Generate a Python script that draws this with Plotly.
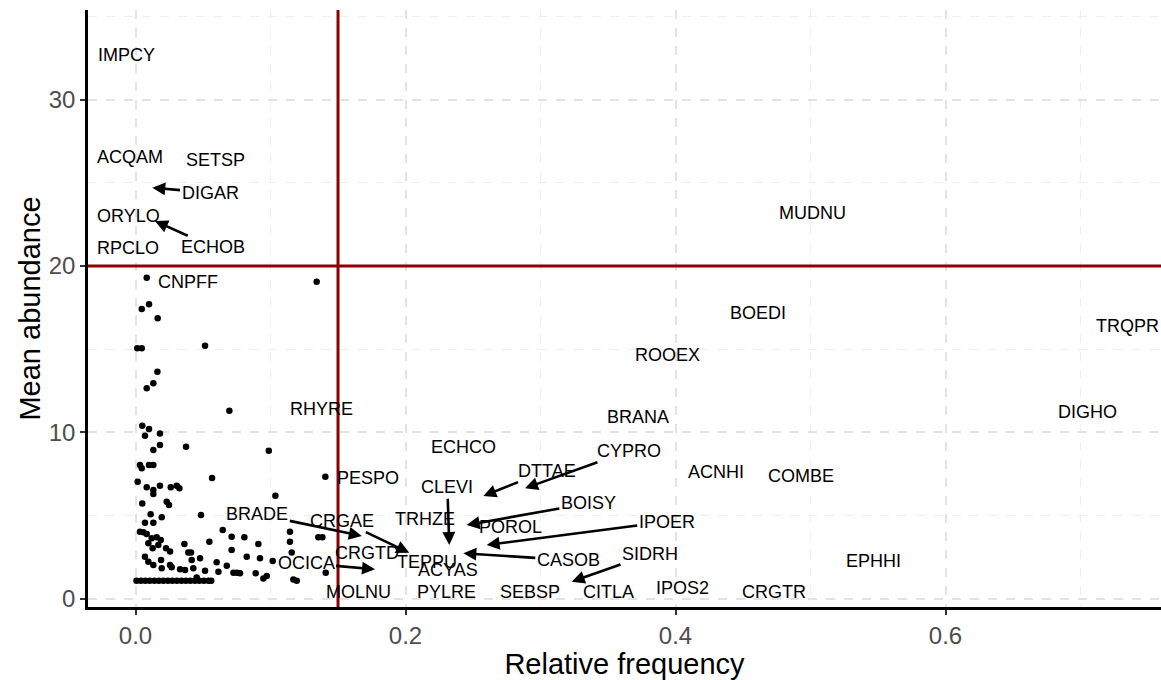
import plotly.graph_objects as go

# ---- labelled species: point position (freq, abund) and label position ----
lab_names = ["IMPCY", "ACQAM", "SETSP", "DIGAR", "ORYLO", "ECHOB", "RPCLO", "MUDNU",
             "CNPFF", "BOEDI", "TRQPR", "ROOEX", "RHYRE", "BRANA", "DIGHO", "ECHCO",
             "CYPRO", "DTTAE", "ACNHI", "COMBE", "PESPO", "CLEVI", "BOISY", "BRADE",
             "CRGAE", "TRHZE", "POROL", "IPOER", "CRGTD", "TEPPU", "CASOB", "SIDRH",
             "ACYAS", "OCICA", "EPHHI", "MOLNU", "PYLRE", "SEBSP", "CITLA", "IPOS2", "CRGTR"]
lab_freq = [-0.0065, -0.0041, 0.0589, 0.0124, -0.0053, 0.0144, -0.0053, 0.5015,
            0.0391, 0.461, 0.7350, 0.3937, 0.1379, 0.3722, 0.705, 0.2428,
            0.2885, 0.2576, 0.430, 0.4933, 0.1725, 0.2324, 0.2453, 0.1676,
            0.2028, 0.2144, 0.2774, 0.2601, 0.1713, 0.2157, 0.2428, 0.3231,
            0.2317, 0.1774, 0.5463, 0.165, 0.2305, 0.2922, 0.3502, 0.405, 0.4731]
lab_abund = [32.68, 26.53, 26.37, 24.70, 23.00, 22.70, 21.06, 23.18,
             19.05, 17.17, 16.39, 14.64, 11.38, 10.94, 11.20, 9.13,
             6.63, 6.16, 7.63, 7.39, 7.23, 3.22, 4.42, 3.76,
             2.75, 4.76, 4.28, 3.22, 2.72, 2.21, 2.72, 1.01,
             1.71, 1.76, 2.25, 0.41, 0.37, 0.37, 0.37, 0.61, 0.37]
lab_tx = [-0.0065, -0.0041, 0.0589, 0.0552, -0.0053, 0.0576, -0.0053, 0.5015,
          0.0391, 0.461, 0.7350, 0.3937, 0.1379, 0.3722, 0.705, 0.2428,
          0.3658, 0.3046, 0.430, 0.4933, 0.1725, 0.231, 0.3354, 0.0902,
          0.1527, 0.2144, 0.2774, 0.3935, 0.1713, 0.2157, 0.3206, 0.3811,
          0.2317, 0.1263, 0.5463, 0.165, 0.2305, 0.2922, 0.3502, 0.405, 0.4731]
lab_ty = [32.68, 26.53, 26.37, 24.40, 23.00, 21.12, 21.06, 23.18,
          19.05, 17.17, 16.39, 14.64, 11.38, 10.94, 11.20, 9.13,
          8.89, 7.69, 7.63, 7.39, 7.23, 6.69, 5.72, 5.08,
          4.68, 4.76, 4.28, 4.62, 2.72, 2.21, 2.32, 2.68,
          1.71, 2.12, 2.25, 0.41, 0.37, 0.37, 0.37, 0.61, 0.37]

# ---- unlabelled species (points) ----
pt_freq = [0.0083, 0.1342, 0.0046, 0.010, 0.0164,
           0.0013, 0.0046, 0.0515, 0.0162, 0.0132, 0.0083, 0.0695,
           0.005, 0.010, 0.007, 0.0181, 0.0132, 0.0181, 0.0374, 0.0987,
           0.0033, 0.0046, 0.010, 0.0132, 0.0016, 0.0567, 0.1406,
           0.0083, 0.0132, 0.0132, 0.0181, 0.0261, 0.0305, 0.0325, 0.1036,
           0.005, 0.0231, 0.0248, 0.0485, 0.0112, 0.007, 0.0132, 0.0194,
           0.0033, 0.0058, 0.0083, 0.012, 0.0157, 0.0187, 0.0095, 0.0127, 0.0169, 0.0226, 0.0256,
           0.007, 0.0095, 0.0132, 0.0189, 0.0194, 0.0256, 0.0268, 0.033,
           0.0362, 0.0391, 0.0411, 0.0416, 0.0367, 0.0428, 0.0478, 0.0515, 0.0453,
           0.0547, 0.0601, 0.0614, 0.0646, 0.0676, 0.0712, 0.0712, 0.0725, 0.0774, 0.0750,
           0.0806, 0.0824, 0.089, 0.091, 0.0922, 0.0947, 0.0972, 0.1016,
           0.1144, 0.1144, 0.1157, 0.1169, 0.1194, 0.1354, 0.1384, 0.1409,
           0.0007, 0.004, 0.0073, 0.0106, 0.014, 0.0173, 0.0206, 0.024, 0.0273,
           0.0306, 0.034, 0.0373, 0.0406, 0.044, 0.0473, 0.0506, 0.054, 0.0561]
pt_abund = [19.29, 19.05, 17.41, 17.70, 16.85,
            15.05, 15.05, 15.20, 13.64, 12.94, 12.64, 11.29,
            10.39, 10.19, 9.79, 9.93, 8.93, 9.23, 9.13, 8.89,
            8.03, 7.83, 8.03, 8.03, 7.02, 7.25, 7.32,
            6.69, 6.52, 6.28, 6.78, 6.69, 6.78, 6.63, 6.18,
            5.72, 5.82, 5.62, 5.02, 5.06, 4.56, 4.56, 4.88,
            4.02, 3.98, 3.88, 3.62, 3.68, 3.52, 3.32, 3.02, 3.22, 3.02, 2.82,
            2.51, 2.21, 2.01, 2.31, 1.82, 2.01, 1.88, 1.76,
            3.28, 2.76, 2.76, 2.31, 1.71, 1.82, 2.42, 1.67, 1.27,
            3.42, 2.18, 1.61, 4.12, 1.97, 3.72, 2.92, 1.55, 1.52, 1.55,
            3.68, 2.51, 1.52, 3.28, 2.42, 1.21, 1.35, 2.25,
            4.02, 3.42, 2.76, 1.15, 1.07, 3.68, 3.68, 1.55,
            1.07, 1.07, 1.07, 1.07, 1.07, 1.07, 1.07, 1.07, 1.07,
            1.07, 1.07, 1.07, 1.07, 1.07, 1.07, 1.07, 1.07, 1.07]

freq_cut = 0.15
abund_cut = 20

x_ticks = [0.0, 0.2, 0.4, 0.6]
x_ticklabels = ["0.0", "0.2", "0.4", "0.6"]
y_ticks = [0, 10, 20, 30]
y_ticklabels = ["0", "10", "20", "30"]

FONT = "Liberation Sans, Arial, sans-serif"

fig = go.Figure()
fig.add_trace(go.Scatter(x=pt_freq, y=pt_abund, mode="markers",
                         marker=dict(color="black", size=6.5), hoverinfo="skip",
                         showlegend=False))

annotations = []
for n, px, py, tx, ty in zip(lab_names, lab_freq, lab_abund, lab_tx, lab_ty):
    moved = abs(px - tx) > 1e-6 or abs(py - ty) > 1e-6
    if moved:
        annotations.append(dict(x=px, y=py, ax=tx, ay=ty, xref="x", yref="y",
                                axref="x", ayref="y", text=n, showarrow=True,
                                arrowhead=2, arrowsize=1, arrowwidth=2.6,
                                arrowcolor="black",
                                font=dict(family=FONT, size=18, color="black")))
    else:
        annotations.append(dict(x=tx, y=ty, xref="x", yref="y", text=n,
                                showarrow=False,
                                font=dict(family=FONT, size=18, color="black")))

fig.add_shape(type="line", xref="x", yref="paper", x0=freq_cut, x1=freq_cut, y0=0, y1=1,
              line=dict(color="#8B0000", width=3), layer="above")
fig.add_shape(type="line", xref="paper", yref="y", x0=0, x1=1, y0=abund_cut, y1=abund_cut,
              line=dict(color="#8B0000", width=3), layer="above")

axis_common = dict(showline=True, linecolor="black", linewidth=2.5, mirror=False,
                   ticks="outside", ticklen=5, tickwidth=2, tickcolor="#333333",
                   tickfont=dict(family=FONT, size=24, color="#4D4D4D"),
                   showgrid=True, gridcolor="#E3E3E3", gridwidth=2, griddash="dash",
                   zeroline=False)

fig.update_layout(
    width=1161, height=680,
    margin=dict(l=88, r=0, t=10, b=73),
    plot_bgcolor="white", paper_bgcolor="white",
    annotations=annotations,
    xaxis=dict(range=[-0.0352, 0.7596], tickvals=x_ticks, ticktext=x_ticklabels,
               title=dict(text="Relative frequency", font=dict(family=FONT, size=29, color="black"),
                          standoff=2),
               minor=dict(dtick=0.1, tick0=0, showgrid=True, gridcolor="#EFEFEF",
                          gridwidth=1, griddash="dash", ticks=""),
               **axis_common),
    yaxis=dict(range=[-0.51, 35.39], tickvals=y_ticks, ticktext=y_ticklabels,
               title=dict(text="Mean abundance", font=dict(family=FONT, size=29, color="black"),
                          standoff=0),
               minor=dict(dtick=5, tick0=0, showgrid=True, gridcolor="#EFEFEF",
                          gridwidth=1, griddash="dash", ticks=""),
               **axis_common),
)

# remove the default page margin so the 1161x680 figure fills the window exactly
fig.write_html("out.html", config={"displayModeBar": False},
               post_script="document.body.style.margin='0';document.body.style.overflow='hidden';")
